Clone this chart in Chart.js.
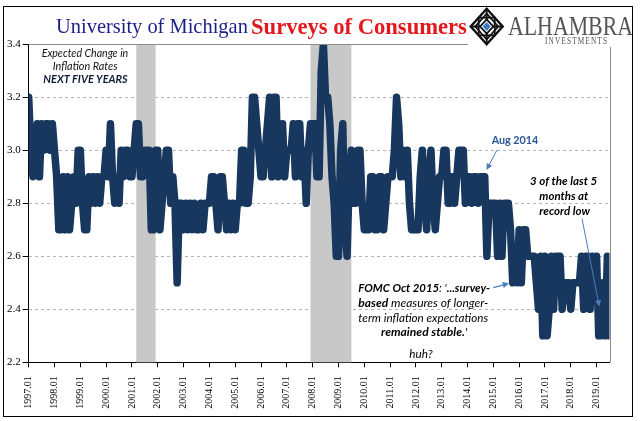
<!DOCTYPE html>
<html><head><meta charset="utf-8">
<script src="https://cdn.jsdelivr.net/npm/chart.js@4/dist/chart.umd.min.js"></script>
<style>html,body{margin:0;padding:0;background:#fff;}#wrap{width:641px;height:421px;}</style>
</head><body><div id="wrap"><canvas id="c" width="641" height="421"></canvas></div>
<script>
// ---- data ----
const startYear = 1997;
const expectations = [
  3.2,3.0,2.9,3.0,3.1,2.9,3.1,3.0,3.1,3.1,3.0,3.1, // 1997
  3.0,2.9,2.7,2.7,2.9,2.7,2.9,2.7,2.8,2.9,2.8,3.0, // 1998
  3.0,2.8,2.7,2.7,2.9,2.8,2.9,2.8,2.9,2.8,2.9,2.9, // 1999
  3.0,2.9,3.1,2.9,2.8,2.9,2.8,3.0,2.9,3.0,3.0,2.9, // 2000
  2.9,3.0,3.1,3.1,2.9,2.9,3.0,3.0,3.0,2.7,2.7,3.0, // 2001
  3.0,2.7,2.8,2.9,3.0,3.0,2.8,2.9,2.8,2.5,2.8,2.8, // 2002
  2.7,2.8,2.7,2.8,2.7,2.8,2.7,2.7,2.8,2.7,2.8,2.8, // 2003
  2.8,2.9,2.9,2.8,2.7,2.9,2.9,2.8,2.7,2.8,2.7,2.8, // 2004
  2.7,2.8,2.8,3.0,3.0,2.8,2.8,2.9,3.2,3.2,3.1,3.0, // 2005
  2.9,2.9,3.0,3.1,3.2,2.9,3.2,3.2,2.9,3.0,3.1,2.9, // 2006
  3.0,3.0,3.0,3.1,2.9,3.1,3.1,2.9,3.0,2.8,3.0,3.1, // 2007
  3.1,3.1,2.9,2.9,3.3,3.4,3.2,3.2,3.1,2.9,2.8,2.6, // 2008
  2.6,3.0,3.1,2.7,2.6,2.9,3.0,2.8,2.8,3.0,3.0,2.8, // 2009
  2.7,2.7,2.7,2.9,2.9,2.7,2.7,2.9,2.9,2.7,2.8,2.9, // 2010
  2.9,2.9,3.0,3.2,3.1,2.9,3.0,2.9,3.0,2.8,2.7,2.7, // 2011
  2.7,2.7,2.9,3.0,2.8,2.7,2.9,3.0,2.8,2.7,2.8,2.9, // 2012
  2.9,3.0,3.0,2.8,2.8,2.9,2.8,2.9,3.0,3.0,3.0,2.8, // 2013
  2.9,2.9,2.8,2.9,2.9,2.8,2.9,2.9,2.9,2.6,2.8,2.8, // 2014
  2.8,2.8,2.6,2.8,2.6,2.8,2.8,2.8,2.7,2.5,2.6,2.5, // 2015
  2.7,2.5,2.7,2.7,2.6,2.6,2.6,2.6,2.5,2.4,2.6,2.3, // 2016
  2.6,2.3,2.4,2.6,2.4,2.6,2.6,2.6,2.4,2.5,2.5,2.5, // 2017
  2.4,2.5,2.5,2.5,2.5,2.6,2.4,2.6,2.6,2.4,2.6,2.5, // 2018
  2.6,2.3,2.3,2.5,2.3,2.6,2.3                      // 2019
];
const months = [];
for (let i = 0; i < expectations.length; i++) {
  months.push((startYear + Math.floor(i / 12)) + '.' + String(i % 12 + 1).padStart(2, '0'));
}
const yTickValues = [2.2, 2.4, 2.6, 2.8, 3.0, 3.2, 3.4];
const recessions = [['2001.03', '2001.12'], ['2007.12', '2009.07']];

// ---- drawing helpers ----
const SANS = 'Lato, "Open Sans", sans-serif';
const SERIF = '"Liberation Serif", "DejaVu Serif", serif';
function fontStr(seg, size, fam) {
  return (seg.i ? 'italic ' : '') + (seg.b ? 'bold ' : '') + size + 'px ' + fam;
}
function drawFit(ctx, segs, cx, cy, w, color, fam, base) {
  fam = fam || SANS; base = base || 11;
  let tot = 0;
  segs.forEach(s => { ctx.font = fontStr(s, base, fam); tot += ctx.measureText(s.t).width; });
  const size = base * w / tot;
  let x = cx - w / 2;
  ctx.save();
  ctx.fillStyle = color || '#000';
  ctx.textBaseline = 'middle';
  ctx.textAlign = 'left';
  segs.forEach(s => {
    ctx.font = fontStr(s, size, fam);
    ctx.fillText(s.t, x, cy);
    x += ctx.measureText(s.t).width;
  });
  ctx.restore();
}
function drawStretch(ctx, text, x, baseline, w, size, font, color, spacing) {
  ctx.save();
  ctx.font = size + 'px ' + font;
  ctx.fillStyle = color;
  ctx.textBaseline = 'alphabetic';
  const chars = text.split('');
  let tot = 0;
  chars.forEach((c, k) => { tot += ctx.measureText(c).width + (k < chars.length - 1 ? spacing : 0); });
  const sx = w / tot;
  ctx.translate(x, baseline);
  ctx.scale(sx, 1);
  let px = 0;
  chars.forEach(c => { ctx.fillText(c, px, 0); px += ctx.measureText(c).width + spacing; });
  ctx.restore();
}
function arrow(ctx, x1, y1, x2, y2, color, lw, head) {
  const a = Math.atan2(y2 - y1, x2 - x1);
  ctx.save();
  ctx.strokeStyle = color; ctx.fillStyle = color; ctx.lineWidth = lw;
  ctx.beginPath();
  ctx.moveTo(x1, y1);
  ctx.lineTo(x2 - Math.cos(a) * head * 0.8, y2 - Math.sin(a) * head * 0.8);
  ctx.stroke();
  ctx.beginPath();
  ctx.moveTo(x2, y2);
  ctx.lineTo(x2 - head * Math.cos(a - 0.45), y2 - head * Math.sin(a - 0.45));
  ctx.lineTo(x2 - head * Math.cos(a + 0.45), y2 - head * Math.sin(a + 0.45));
  ctx.closePath();
  ctx.fill();
  ctx.restore();
}
function diamond(ctx, cx, cy, hw, hh) {
  ctx.beginPath();
  ctx.moveTo(cx, cy - hh); ctx.lineTo(cx + hw, cy); ctx.lineTo(cx, cy + hh); ctx.lineTo(cx - hw, cy);
  ctx.closePath();
}

const recessionPlugin = {
  id: 'recessions',
  beforeDatasetsDraw(chart) {
    const {ctx, chartArea: a, scales: {x}} = chart;
    ctx.save();
    ctx.fillStyle = '#c8c8c8';
    recessions.forEach(([s, e]) => {
      const x1 = x.getPixelForValue(months.indexOf(s));
      const x2 = x.getPixelForValue(months.indexOf(e));
      ctx.fillRect(x1, a.top, x2 - x1, a.bottom - a.top);
    });
    ctx.restore();
  }
};

const overlayPlugin = {
  id: 'overlay',
  afterDraw(chart) {
    const {ctx, chartArea: a} = chart;
    ctx.save();
    // plot frame top / right
    ctx.strokeStyle = '#8c8c8c'; ctx.lineWidth = 1;
    ctx.beginPath();
    ctx.moveTo(a.left, Math.round(a.top) + 0.5); ctx.lineTo(a.right, Math.round(a.top) + 0.5);
    ctx.moveTo(Math.round(a.right) + 0.5, a.top); ctx.lineTo(Math.round(a.right) + 0.5, a.bottom);
    ctx.stroke();
    // logo background
    ctx.fillStyle = '#fff';
    ctx.fillRect(468, 7, 164, 40);
    // title
    drawFit(ctx, [{t: 'University of Michigan'}], 152, 28, 192, '#1c1f86', SERIF, 20);
    drawFit(ctx, [{t: 'Surveys of Consumers', b: 1}], 359, 28, 216, '#e3171c', SERIF, 22);
    // logo ornament
    const cx = 486.7, cy = 26.5;
    ctx.lineJoin = 'miter';
    ctx.strokeStyle = '#111'; ctx.lineWidth = 2.4;
    diamond(ctx, cx, cy, 16, 17.8); ctx.stroke();
    ctx.lineWidth = 1.8;
    diamond(ctx, cx, cy, 11.5, 12.8); ctx.stroke();
    ctx.strokeRect(cx - 8, cy - 8.8, 16, 17.6);
    ctx.beginPath();
    ctx.moveTo(cx - 16, cy); ctx.lineTo(cx + 16, cy);
    ctx.moveTo(cx, cy - 17.8); ctx.lineTo(cx, cy + 17.8);
    ctx.stroke();
    ctx.fillStyle = '#fff';
    diamond(ctx, cx, cy, 6.5, 7.2); ctx.fill(); ctx.stroke();
    ctx.fillStyle = '#3b7bc8';
    diamond(ctx, cx, cy, 4, 4.6); ctx.fill();
    drawStretch(ctx, 'ALHAMBRA', 508, 35, 125, 27, SERIF, '#555', 0);
    drawStretch(ctx, 'INVESTMENTS', 545, 44, 62, 9.5, SERIF, '#555', 1.5);
    // annotations
    drawFit(ctx, [{t: 'Expected Change in', i: 1}], 85, 53.5, 86.6, '#111');
    drawFit(ctx, [{t: 'Inflation Rates', i: 1}], 85.2, 66.2, 65, '#111');
    drawFit(ctx, [{t: 'NEXT FIVE YEARS', i: 1, b: 1}], 85.5, 79.3, 84.4, '#0f1c38');
    drawFit(ctx, [{t: 'Aug 2014', b: 1}], 515, 140.5, 46.6, '#2a5694');
    arrow(ctx, 497, 150, 486.5, 170, '#4a7ebb', 1, 7);
    drawFit(ctx, [{t: '3 of the last 5', i: 1, b: 1}], 563.7, 181.5, 67.3, '#000');
    drawFit(ctx, [{t: 'months at', i: 1, b: 1}], 563.8, 196.5, 49, '#000');
    drawFit(ctx, [{t: 'record low', i: 1, b: 1}], 564.7, 211.3, 50.7, '#000');
    arrow(ctx, 582, 218.5, 599.3, 306.5, '#4a7ebb', 1, 7);
    drawFit(ctx, [{t: 'FOMC Oct 2015', i: 1, b: 1}, {t: ": '", i: 1}, {t: '...survey-', i: 1, b: 1}], 424.2, 288.3, 131.7, '#000');
    drawFit(ctx, [{t: 'based', i: 1, b: 1}, {t: ' measures of longer-', i: 1}], 423.3, 303.3, 130, '#000');
    drawFit(ctx, [{t: 'term inflation expectations', i: 1}], 423.3, 318.3, 130, '#000');
    drawFit(ctx, [{t: 'remained stable.', i: 1, b: 1}, {t: "'", i: 1}], 424.2, 332.3, 86.3, '#000');
    drawFit(ctx, [{t: 'huh?', i: 1}], 421, 354, 23.3, '#000');
    arrow(ctx, 493.3, 287.7, 509, 283.3, '#4a7ebb', 1.2, 7);
    // outer frame
    ctx.strokeStyle = '#000'; ctx.lineWidth = 1;
    ctx.strokeRect(3.5, 6.5, 629, 410);
    ctx.restore();
  }
};

new Chart(document.getElementById('c').getContext('2d'), {
  type: 'line',
  data: {
    labels: months,
    datasets: [{
      data: expectations,
      borderColor: '#17375e',
      borderWidth: 7.5,
      pointRadius: 0,
      tension: 0,
      fill: false,
      borderJoinStyle: 'round',
      borderCapStyle: 'round',
      clip: 0
    }]
  },
  options: {
    responsive: false,
    animation: false,
    devicePixelRatio: 1,
    layout: {padding: {left: 4, top: 44.3, right: 31.5, bottom: 0}},
    plugins: {legend: {display: false}, tooltip: {enabled: false}},
    scales: {
      x: {
        type: 'category',
        offset: false,
        grid: {display: true, drawOnChartArea: false, drawTicks: true, tickLength: 5, tickColor: '#000', color: '#000'},
        border: {display: true, color: '#000', width: 1},
        ticks: {
          autoSkip: false, maxRotation: 90, minRotation: 90, padding: 9, color: '#000',
          font: {family: SERIF, size: 10},
          callback: function (v) { const l = this.getLabelForValue(v); return l.endsWith('.01') ? l : null; }
        },
        afterFit(s) { s.height = 58.7; }
      },
      y: {
        min: 2.2, max: 3.4,
        afterBuildTicks(s) { s.ticks = yTickValues.map(v => ({value: v})); },
        grid: {
          color: c => (c.tick && (Math.abs(c.tick.value - 2.2) < 1e-6 || Math.abs(c.tick.value - 3.4) < 1e-6)) ? 'rgba(0,0,0,0)' : '#b4b4b4',
          tickColor: '#000', tickLength: 6, lineWidth: 1, drawTicks: true
        },
        border: {display: true, color: '#000', width: 1, dash: [3, 3]},
        ticks: {padding: 2, color: '#000', font: {family: SERIF, size: 11}, callback: v => Number(v).toFixed(1)},
        afterFit(s) { s.width = 24.7; }
      }
    }
  },
  plugins: [recessionPlugin, overlayPlugin]
});
</script>
</body></html>
